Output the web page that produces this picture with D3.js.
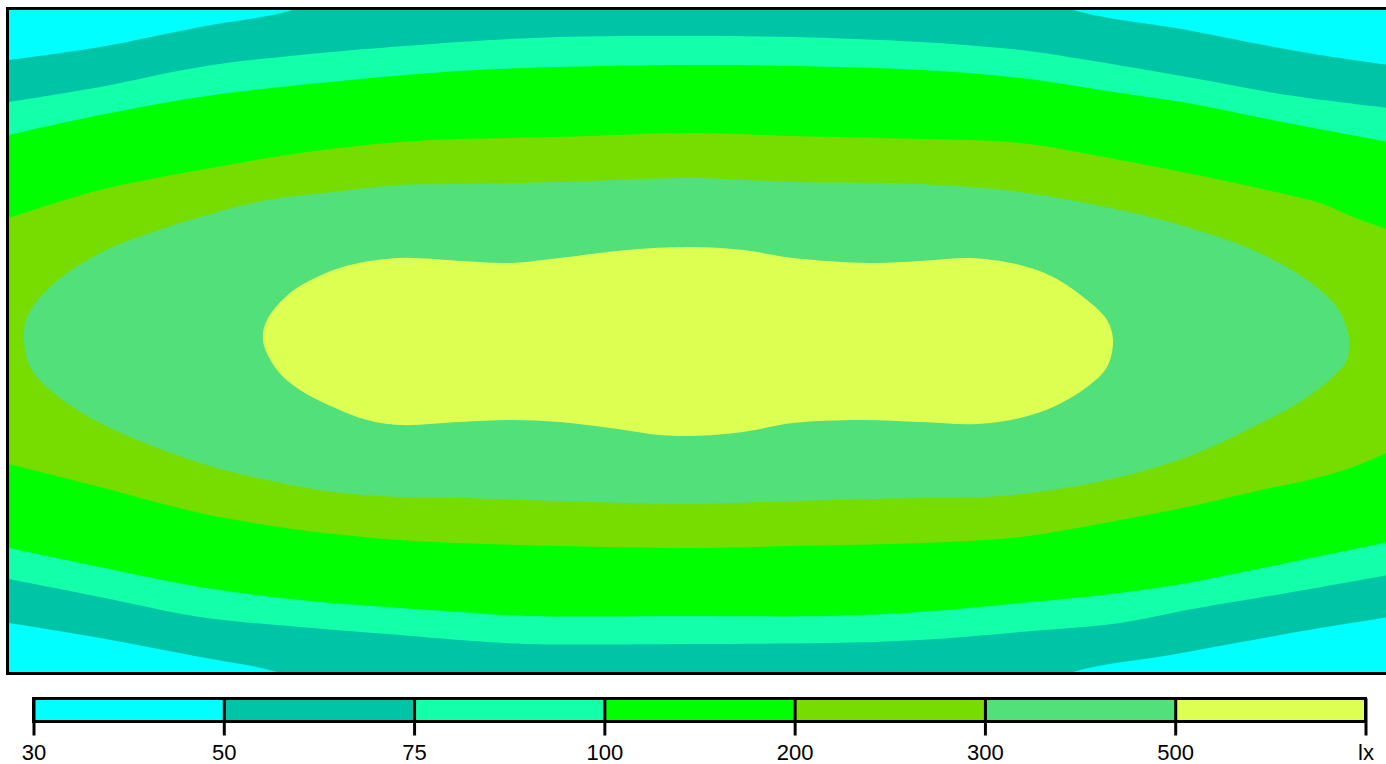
<!DOCTYPE html>
<html>
<head>
<meta charset="utf-8">
<script src="https://cdn.jsdelivr.net/npm/d3@7"></script>
<style>
  body { margin: 0; background: #fff; }
  svg { display: block; }
  .legend text { font-family: "Liberation Sans", Arial, sans-serif; font-size: 22px; fill: #000; }
</style>
</head>
<body>
<svg id="chart" width="1386" height="764"></svg>
<script>
// room size in metres (plot runs off the right edge of the canvas a little)
const roomW = 13.8;
const roomH = 6.62;

// isolux levels and their fill colours
const levels = [30, 50, 75, 100, 200, 300, 500];
const levelColors = ['#00ffff', '#00c4a6', '#14ffaa', '#00ff00', '#77dd00', '#52e07a', '#ddff52'];
const legendLabels = ['30', '50', '75', '100', '200', '300', '500', 'lx'];

// isolines, [x m, y m]; open ones run wall to wall
const iso50Top = [[0, 0.50], [0.91, 0.37], [1.91, 0.17], [2.84, 0], [3.6, -0.3], [9.9, -0.3], [10.64, 0], [11.78, 0.20], [12.44, 0.33], [13.11, 0.45], [13.80, 0.55]];
const iso50Bottom = [[0, 6.13], [0.91, 6.28], [1.91, 6.47], [2.68, 6.62], [3.4, 6.9], [10.0, 6.9], [10.64, 6.62], [11.61, 6.45], [12.44, 6.30], [13.11, 6.18], [13.80, 6.07]];

const iso75Top = [[0, 0.92], [0.91, 0.77], [1.91, 0.57], [2.91, 0.45], [4.51, 0.32], [5.51, 0.27], [6.81, 0.26], [7.84, 0.27], [9.11, 0.32], [10.11, 0.40], [10.78, 0.50], [11.78, 0.67], [12.78, 0.85], [13.80, 0.98]];
const iso75Bottom = [[0, 5.69], [0.91, 5.87], [1.91, 6.07], [2.91, 6.17], [3.91, 6.25], [4.51, 6.30], [5.18, 6.34], [6.81, 6.34], [8.18, 6.33], [9.11, 6.30], [10.11, 6.22], [11.11, 6.13], [11.78, 6.00], [12.78, 5.83], [13.80, 5.65]];

const iso100Top = [[0, 1.25], [0.91, 1.05], [1.91, 0.87], [2.91, 0.75], [4.51, 0.61], [5.51, 0.57], [6.81, 0.55], [7.84, 0.56], [9.11, 0.60], [10.11, 0.68], [11.11, 0.83], [11.78, 0.93], [12.78, 1.13], [13.80, 1.32]];
const iso100Bottom = [[0, 5.38], [0.91, 5.57], [1.91, 5.77], [2.91, 5.90], [3.91, 5.98], [4.51, 6.02], [5.18, 6.06], [6.81, 6.06], [8.18, 6.06], [9.11, 6.02], [10.11, 5.93], [11.11, 5.83], [11.78, 5.73], [12.78, 5.53], [13.80, 5.32]];

const iso200Top = [[0, 2.08], [0.91, 1.80], [1.91, 1.60], [2.91, 1.43], [3.91, 1.32], [4.51, 1.29], [5.51, 1.27], [6.81, 1.23], [7.84, 1.26], [9.11, 1.29], [10.11, 1.33], [11.11, 1.50], [11.78, 1.63], [12.44, 1.77], [13.11, 1.93], [13.44, 2.07], [13.80, 2.20]];
const iso200Bottom = [[0, 4.54], [0.91, 4.77], [1.91, 5.03], [2.91, 5.20], [3.91, 5.30], [4.51, 5.33], [5.51, 5.36], [6.81, 5.38], [7.84, 5.36], [9.11, 5.33], [10.11, 5.27], [11.11, 5.10], [11.78, 4.97], [12.44, 4.82], [13.11, 4.67], [13.44, 4.57], [13.80, 4.42]];

// closed isolines
const iso300 = [[0.15, 3.30], [0.18, 3.07], [0.41, 2.77], [0.91, 2.43], [1.41, 2.23], [1.91, 2.07], [2.58, 1.90], [3.24, 1.82], [3.91, 1.75], [4.51, 1.74], [5.51, 1.72], [6.81, 1.68], [7.84, 1.72], [9.11, 1.74], [10.11, 1.82], [11.11, 2.00], [11.78, 2.17], [12.44, 2.40], [12.94, 2.67], [13.28, 2.97], [13.39, 3.23], [13.40, 3.35], [13.38, 3.50], [13.28, 3.63], [12.94, 3.90], [12.44, 4.17], [11.78, 4.47], [11.11, 4.67], [10.44, 4.80], [9.78, 4.87], [9.11, 4.88], [7.84, 4.91], [6.81, 4.94], [5.51, 4.91], [4.51, 4.88], [3.91, 4.87], [3.24, 4.82], [2.58, 4.70], [1.91, 4.53], [0.91, 4.13], [0.41, 3.80], [0.21, 3.57]];

const iso500 = [[2.54, 3.31], [2.58, 3.10], [2.81, 2.83], [3.08, 2.67], [3.41, 2.55], [3.91, 2.48], [4.51, 2.51], [5.01, 2.53], [5.51, 2.48], [6.18, 2.40], [6.81, 2.37], [7.34, 2.40], [7.84, 2.48], [8.61, 2.53], [9.11, 2.51], [9.61, 2.48], [10.11, 2.55], [10.44, 2.67], [10.78, 2.90], [10.98, 3.10], [11.04, 3.30], [10.98, 3.57], [10.78, 3.77], [10.44, 3.97], [10.11, 4.08], [9.68, 4.14], [9.11, 4.12], [8.51, 4.10], [7.84, 4.13], [7.34, 4.22], [6.84, 4.26], [6.51, 4.25], [6.01, 4.18], [5.51, 4.12], [5.01, 4.10], [4.51, 4.12], [3.91, 4.15], [3.58, 4.10], [3.24, 3.97], [2.91, 3.80], [2.68, 3.60]];

const svg = d3.select("#chart");

const x = d3.scaleLinear().domain([0, roomW]).range([9, 1389]);
const y = d3.scaleLinear().domain([0, roomH]).range([10, 672]);

const openLine = d3.line()
  .x(d => x(d[0]))
  .y(d => y(d[1]))
  .curve(d3.curveCatmullRom);

const closedLine = d3.line()
  .x(d => x(d[0]))
  .y(d => y(d[1]))
  .curve(d3.curveCatmullRomClosed);

// top edge left->right, then bottom edge back
function bandPath(top, bottom) {
  const a = openLine(top);
  const b = openLine(bottom.slice().reverse());
  return a + "L" + b.slice(1) + "Z";
}

svg.append("clipPath")
  .attr("id", "plotClip")
  .append("rect")
  .attr("x", x(0))
  .attr("y", y(0))
  .attr("width", x(roomW) - x(0))
  .attr("height", y(roomH) - y(0));

const plot = svg.append("g").attr("clip-path", "url(#plotClip)");

plot.append("rect")
  .attr("x", x(0))
  .attr("y", y(0))
  .attr("width", x(roomW) - x(0))
  .attr("height", y(roomH) - y(0))
  .attr("fill", levelColors[0]);

const bands = [
  [iso50Top, iso50Bottom],
  [iso75Top, iso75Bottom],
  [iso100Top, iso100Bottom],
  [iso200Top, iso200Bottom]
];

bands.forEach((b, i) => {
  plot.append("path")
    .attr("d", bandPath(b[0], b[1]))
    .attr("fill", levelColors[i + 1]);
});

plot.append("path").attr("d", closedLine(iso300)).attr("fill", levelColors[5]);
plot.append("path").attr("d", closedLine(iso500)).attr("fill", levelColors[6]);

// frame
svg.append("rect")
  .attr("x", x(0) - 1.5)
  .attr("y", y(0) - 1.5)
  .attr("width", x(roomW) - x(0) + 3)
  .attr("height", y(roomH) - y(0) + 3)
  .attr("fill", "none")
  .attr("stroke", "#000")
  .attr("stroke-width", 3);

// legend
const pos = d3.scaleLinear().domain([0, levels.length]).range([33.5, 1365.5]);
const legendTop = 698.5;
const legendBottom = 721.5;

const legend = svg.append("g").attr("class", "legend");

legend.selectAll("rect.swatch")
  .data(levelColors)
  .enter()
  .append("rect")
  .attr("class", "swatch")
  .attr("x", (d, i) => pos(i))
  .attr("y", legendTop)
  .attr("width", (d, i) => pos(i + 1) - pos(i))
  .attr("height", legendBottom - legendTop)
  .attr("fill", d => d);

legend.append("rect")
  .attr("x", pos(0))
  .attr("y", legendTop)
  .attr("width", pos(levels.length) - pos(0))
  .attr("height", legendBottom - legendTop)
  .attr("fill", "none")
  .attr("stroke", "#000")
  .attr("stroke-width", 3);

const axis = d3.axisBottom(pos)
  .tickValues(d3.range(legendLabels.length))
  .tickFormat(i => legendLabels[i])
  .tickSize(14)
  .tickSizeOuter(0)
  .tickPadding(9);

const ax = legend.append("g")
  .attr("transform", `translate(0,${legendBottom})`)
  .call(axis);

ax.select(".domain").remove();
ax.selectAll(".tick line")
  .attr("y1", legendTop - legendBottom)
  .attr("stroke", "#000")
  .attr("stroke-width", 3);
ax.selectAll(".tick text")
  .attr("font-family", null)
  .attr("font-size", null);
</script>
</body>
</html>
